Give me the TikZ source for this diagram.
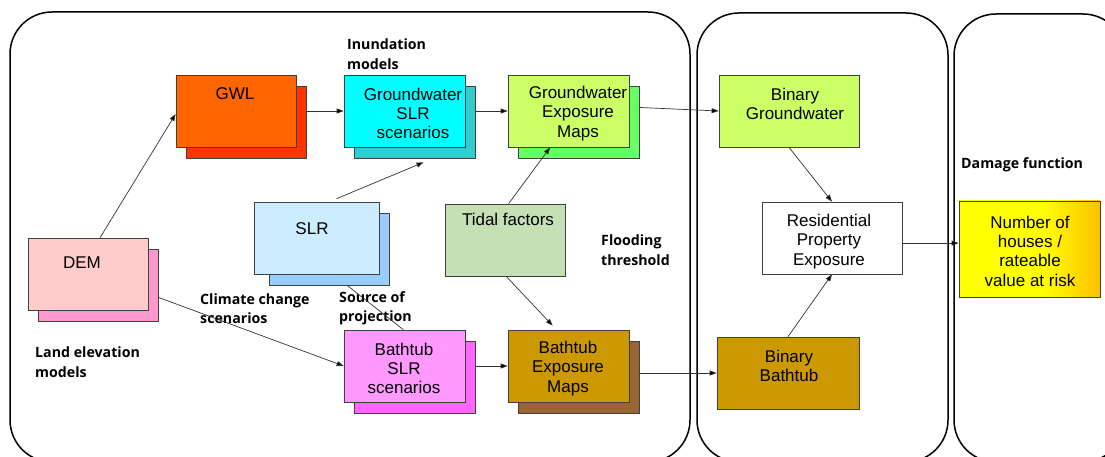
\documentclass[tikz,border=0pt]{standalone}
\usepackage{fontspec}
\setmainfont{Liberation Sans}
\newfontfamily\lblfont{Open Sans}
\usetikzlibrary{arrows.meta,calc}
\definecolor{boxline}{HTML}{404040}
\definecolor{linegray}{HTML}{333333}
\definecolor{gwlF}{HTML}{FF6600}
\definecolor{gwlS}{HTML}{FF3300}
\definecolor{cyanF}{HTML}{00FFFF}
\definecolor{cyanS}{HTML}{33CCCC}
\definecolor{limeF}{HTML}{CCFF66}
\definecolor{limeS}{HTML}{66FF66}
\definecolor{tidalF}{HTML}{C5E0B4}
\definecolor{slrF}{HTML}{CCECFF}
\definecolor{slrS}{HTML}{99CCFF}
\definecolor{demF}{HTML}{FFCCCC}
\definecolor{demS}{HTML}{FF99CC}
\definecolor{pinkF}{HTML}{FF99FF}
\definecolor{pinkS}{HTML}{FF66FF}
\definecolor{goldF}{HTML}{CC9900}
\definecolor{brownS}{HTML}{996633}
\definecolor{numY}{HTML}{FFFF00}
\definecolor{numO}{HTML}{FFC000}
\pgfdeclarehorizontalshading{numshade}{100bp}{color(0bp)=(numY); color(25bp)=(numY); color(55bp)=(numY); color(75bp)=(numO); color(100bp)=(numO)}
\tikzset{
  panel/.style={draw=black, line width=1.5pt, rounded corners=42pt},
  box/.style={draw=boxline, line width=0.7pt, minimum width=120pt, minimum height=72pt, inner sep=0pt},
  boxtext/.style={font=\fontsize{17}{19.3}\selectfont, align=center, inner sep=0pt},
  lbl/.style={font=\lblfont\bfseries\fontsize{14.2}{19.5}\selectfont, align=left, anchor=west, inner sep=0pt},
  conn/.style={draw=linegray, line width=0.7pt, -{Triangle[length=7pt,width=5pt,fill=black]}},
  plainconn/.style={draw=linegray, line width=0.7pt}
}
\begin{document}
\begin{tikzpicture}[x=1pt,y=-1pt]
\useasboundingbox (0,0) rectangle (1105,457);
\clip (0,0) rectangle (1105,457);
\fill[white] (0,0) rectangle (1105,457);

% panels
\draw[panel] (10,12) rectangle (690,462);
\draw[panel] (697,13) rectangle (948,462);
\draw[panel] (954,14) rectangle (1125,462);

% shadows
\node[box, fill=gwlS]   (gwlS)     at (246,122) {};
\node[box, fill=cyanS, minimum width=121pt]  (gwslrS)  at (415,122) {};
\node[box, fill=limeS, minimum width=121pt]  (gwexpS)  at (578.5,122) {};
\node[box, fill=slrS]   (slrS)     at (329,249) {};
\node[box, fill=demS]   (demS)     at (98,285) {};
\node[box, fill=pinkS, minimum width=121pt]  (bathslrS) at (415,377) {};
\node[box, fill=brownS, minimum width=121pt] (bathexpS) at (578.5,377) {};

% front boxes
\node[box, fill=gwlF]   (gwl)     at (236,111) {};
\node[box, fill=cyanF, minimum width=121pt]  (gwslr)  at (404.5,111) {};
\node[box, fill=limeF, minimum width=121pt]  (gwexp)  at (568.5,111) {};
\node[box, fill=limeF, minimum width=140pt]  (bingw)  at (789,111) {};
\node[box, fill=white, minimum width=140pt]  (res)    at (832,238) {};
\node[box, shading=numshade, minimum width=141pt, minimum height=96pt] (num) at (1029.5,249) {};
\node[box, fill=goldF, minimum width=142pt]  (binbath) at (788,373) {};
\node[box, fill=goldF, minimum width=121pt]  (bathexp) at (568.5,366) {};
\node[box, fill=pinkF, minimum width=121pt]  (bathslr) at (404.5,366) {};
\node[box, fill=tidalF] (tidal) at (505,240) {};
\node[box, fill=slrF, minimum width=125pt] (slr) at (316.5,238) {};
\node[box, fill=demF] (dem) at (88,274) {};

% box texts
\node[boxtext] (gwlT)     at (235,94)   {GWL};
\node[boxtext] (gwslrT)   at (413,113.5)  {Groundwater\\SLR\\scenarios};
\node[boxtext] (gwexpT)   at (578,113.5)  {Groundwater\\Exposure\\Maps};
\node[boxtext] (bingwT)   at (795,104) {Binary\\Groundwater};
\node[boxtext] (resT)     at (829,241.5)  {Residential\\Property\\Exposure};
\node[boxtext] (numT)     at (1030,251) {Number of\\houses /\\rateable\\value at risk};
\node[boxtext] (binbathT) at (789,366) {Binary\\Bathtub};
\node[boxtext] (bathexpT) at (568,368.5)  {Bathtub\\Exposure\\Maps};
\node[boxtext] (bathslrT) at (404,368.5)  {Bathtub\\SLR\\scenarios};
\node[boxtext] (tidalT)   at (508,219.5)  {Tidal factors};
\node[boxtext] (slrT)     at (312,228.5)  {SLR};
\node[boxtext] (demT)     at (82,262.5)   {DEM};

% labels
\node[lbl] (lInund) at (347,54) {Inundation\\models};
\node[lbl] (lLand)  at (35,362) {Land elevation\\models};
\node[lbl] (lClim)  at (200,308.5)  {Climate change\\scenarios};
\node[lbl] (lSrc)   at (339,308.5)  {Source of\\projection};
\node[lbl] (lFlood) at (601,250) {Flooding\\threshold};
\node[lbl] (lDmg)   at (961,164.5)  {Damage function};

% connector end points
\coordinate (demTop)   at ($(dem.north west)!0.6!(dem.north east)$);
\coordinate (gwexpOut) at ($(gwexpS.north east)!0.3!(gwexpS.south east)$);
\coordinate (slrTop)   at ($(slr.north west)!0.66!(slr.north east)$);
\coordinate (gwslrIn)  at ($(gwslrS.south west)!0.57!(gwslrS.south east)$);
\coordinate (tidalTop) at ($(tidal.north west)!0.53!(tidal.north east)$);
\coordinate (gwexpIn)  at ($(gwexp.south west)!0.35!(gwexp.south east)$);
\coordinate (tidalBot) at ($(tidal.south west)!0.51!(tidal.south east)$);
\coordinate (bathexpIn) at ($(bathexp.north west)!0.37!(bathexp.north east)$);
\coordinate (slrBot)   at ($(slrS.south west)!0.65!(slrS.south east)$);
\coordinate (bathslrIn) at ($(bathslr.north west)!0.49!(bathslr.north east)$);
\coordinate (demOut)   at ($(demS.north east)!0.67!(demS.south east)$);
\coordinate (resOut)   at ($(res.north east)!0.57!(res.south east)$);

% connectors
\draw[conn] (demTop) -- ([yshift=-3pt]gwl.west);
\draw[conn] (gwl.east -| gwlS.east) -- (gwslr.west);
\draw[conn] (gwslr.east -| gwslrS.east) -- (gwexp.west);
\draw[conn] (gwexpOut) -- (bingw.west);
\draw[conn] ([yshift=3pt]slrTop) -- ([yshift=-4pt]gwslrIn);
\draw[conn] (tidalTop) -- (gwexpIn);
\draw[conn] (tidalBot) -- ([yshift=4pt]bathexpIn);
\draw[plainconn] (slrBot) -- (bathslrIn);
\draw[conn] (demOut) -- (bathslr.west);
\draw[conn] (bathslr.east -| bathslrS.east) -- (bathexp.west);
\draw[conn] (binbath.west -| bathexpS.east) -- (binbath.west);
\draw[conn] (bingw.south) -- (res.north);
\draw[conn] (binbath.north) -- (res.south);
\draw[conn] (resOut) -- (resOut -| num.west);
\end{tikzpicture}
\end{document}
